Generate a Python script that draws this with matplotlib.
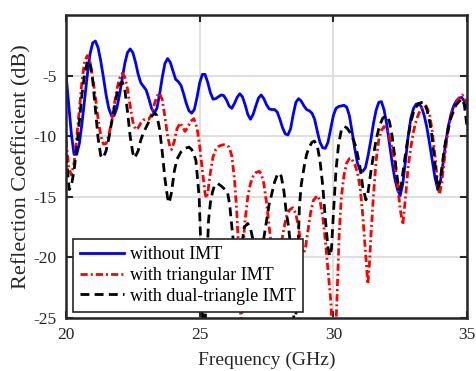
import matplotlib
matplotlib.use("Agg")
import matplotlib.pyplot as plt

plt.rcParams["font.family"] = ["Liberation Serif", "DejaVu Serif"]
plt.rcParams["axes.unicode_minus"] = False

# ---- data (frequency in GHz, S11 in dB) ----
freq_blue = [20.0, 20.1, 20.2, 20.3, 20.4, 20.5, 20.6, 20.7, 20.8, 20.9,
             21.0, 21.1, 21.2, 21.3, 21.4, 21.5, 21.6, 21.7, 21.8, 21.9,
             22.0, 22.1, 22.2, 22.3, 22.4, 22.5, 22.6, 22.7, 22.8, 22.9,
             23.0, 23.1, 23.2, 23.3, 23.4, 23.5, 23.6, 23.7, 23.8, 23.9,
             24.0, 24.1, 24.2, 24.3, 24.4, 24.5, 24.6, 24.7, 24.8, 24.9,
             25.0, 25.1, 25.2, 25.3, 25.4, 25.5, 25.6, 25.7, 25.8, 25.9,
             26.0, 26.1, 26.2, 26.3, 26.4, 26.5, 26.6, 26.7, 26.8, 26.9,
             27.0, 27.1, 27.2, 27.3, 27.4, 27.5, 27.6, 27.7, 27.8, 27.9,
             28.0, 28.1, 28.2, 28.3, 28.4, 28.5, 28.6, 28.7, 28.8, 28.9,
             29.0, 29.1, 29.2, 29.3, 29.4, 29.5, 29.6, 29.7, 29.8, 29.9,
             30.0, 30.1, 30.2, 30.3, 30.4, 30.5, 30.6, 30.7, 30.8, 30.9,
             31.0, 31.1, 31.2, 31.3, 31.4, 31.5, 31.6, 31.7, 31.8, 31.9,
             32.0, 32.1, 32.2, 32.3, 32.4, 32.5, 32.6, 32.7, 32.8, 32.9,
             33.0, 33.1, 33.2, 33.3, 33.4, 33.5, 33.6, 33.7, 33.8, 33.9,
             34.0, 34.1, 34.2, 34.3, 34.4, 34.5, 34.6, 34.7, 34.8, 34.9,
             35.0]
s11_blue = [-4.9, -7.3, -9.8, -11.5, -11.5, -10.6, -8.9, -6.9, -4.9, -3.2,
            -2.3, -2.15, -2.7, -3.8, -5.15, -6.6, -7.7, -8.3, -8.3, -7.7,
            -6.6, -5.3, -4.0, -3.1, -2.8, -3.1, -3.9, -4.9, -5.6, -5.9,
            -6.2, -6.9, -7.7, -8.1, -7.7, -6.55, -5.15, -4.0, -3.6, -3.9,
            -4.6, -5.3, -5.5, -5.8, -6.5, -7.3, -7.9, -8.1, -7.8, -6.8,
            -5.6, -4.9, -4.9, -5.55, -6.4, -6.95, -6.9, -6.75, -6.6, -6.65,
            -7.0, -7.5, -7.7, -7.3, -6.8, -6.5, -6.75, -7.4, -8.2, -8.6,
            -8.2, -7.5, -6.85, -6.6, -6.9, -7.4, -7.75, -7.8, -7.8, -8.0,
            -8.6, -9.3, -9.8, -9.9, -9.4, -8.2, -7.2, -6.9, -7.1, -7.5,
            -7.8, -7.9, -8.1, -8.6, -9.6, -10.5, -10.95, -11.0, -10.5, -9.4,
            -8.3, -7.7, -7.55, -7.5, -7.45, -7.6, -8.3, -9.6, -11.0, -12.2,
            -12.8, -12.9, -12.6, -11.6, -10.35, -8.95, -7.85, -7.2, -7.15, -7.85,
            -9.05, -10.6, -12.2, -13.5, -14.4, -14.9, -13.9, -12.0, -10.0, -8.5,
            -7.7, -7.35, -7.3, -7.6, -8.3, -9.3, -10.6, -12.0, -13.4, -14.3,
            -13.8, -12.3, -10.6, -9.2, -8.2, -7.5, -7.1, -6.85, -6.8, -7.1,
            -7.6]

freq_red = [20.0, 20.1, 20.2, 20.3, 20.4, 20.5, 20.6, 20.7, 20.8, 20.9,
            21.0, 21.1, 21.2, 21.3, 21.4, 21.5, 21.6, 21.7, 21.8, 21.9,
            22.0, 22.1, 22.2, 22.3, 22.4, 22.5, 22.6, 22.7, 22.8, 22.9,
            23.0, 23.1, 23.2, 23.3, 23.4, 23.5, 23.6, 23.7, 23.8, 23.9,
            23.95, 24.05, 24.15, 24.27, 24.35, 24.45, 24.55, 24.65, 24.78, 24.9,
            25.0, 25.1, 25.2, 25.25, 25.3, 25.4, 25.5, 25.6, 25.7, 25.8,
            25.9, 26.0, 26.1, 26.2, 26.3, 26.39, 26.48, 26.55, 26.62, 26.67,
            26.8, 26.9, 27.0, 27.1, 27.23, 27.3, 27.4, 27.5, 27.6, 27.7,
            27.8, 27.87, 27.95, 28.05, 28.15, 28.25, 28.35, 28.48, 28.6, 28.7,
            28.8, 28.88, 28.95, 29.05, 29.15, 29.25, 29.4, 29.5, 29.6, 29.7,
            29.8, 29.9, 29.95, 30.0, 30.06, 30.1, 30.15, 30.22, 30.3, 30.4,
            30.5, 30.6, 30.66, 30.8, 30.9, 31.0, 31.1, 31.2, 31.29, 31.35,
            31.41, 31.5, 31.6, 31.7, 31.8, 31.9, 32.0, 32.1, 32.2, 32.3,
            32.4, 32.5, 32.6, 32.7, 32.8, 32.9, 33.0, 33.1, 33.2, 33.3,
            33.47, 33.6, 33.7, 33.8, 33.9, 33.97, 34.05, 34.15, 34.25, 34.35,
            34.45, 34.55, 34.65, 34.82, 34.9, 35.0]
s11_red = [-10.3, -12.6, -13.2, -12.25, -10.15, -7.8, -5.4, -3.75, -3.35, -3.9,
           -5.2, -6.8, -8.6, -9.95, -10.65, -10.6, -9.95, -8.8, -7.45, -6.15,
           -5.25, -4.82, -5.1, -6.1, -7.5, -8.8, -9.45, -9.3, -8.9, -8.65,
           -8.6, -8.6, -8.2, -7.4, -6.7, -6.45, -7.0, -8.4, -10.0, -11.0,
           -11.1, -10.4, -9.4, -8.9, -9.2, -9.6, -9.3, -8.8, -8.55, -9.3,
           -10.8, -12.8, -14.7, -15.1, -14.7, -13.0, -11.7, -11.1, -10.85, -10.75,
           -10.7, -10.75, -10.9, -11.6, -13.5, -16.3, -20.5, -26.5, -20.5, -17.5,
           -15.0, -13.9, -13.3, -13.0, -12.9, -13.1, -13.9, -15.5, -17.5, -19.3,
           -20.8, -21.2, -20.6, -18.9, -17.6, -16.6, -16.1, -15.9, -16.4, -17.6,
           -19.1, -19.7, -19.3, -17.8, -16.3, -15.3, -14.9, -15.3, -16.6, -18.6,
           -21.0, -23.5, -25.5, -27.0, -27.0, -25.5, -22.5, -18.0, -15.0, -13.2,
           -12.2, -11.85, -11.8, -12.3, -13.0, -14.2, -16.5, -19.5, -22.2, -20.5,
           -18.0, -14.9, -12.0, -10.3, -9.5, -9.2, -9.4, -10.1, -11.0, -12.2,
           -14.0, -16.0, -17.3, -15.0, -12.5, -10.9, -9.6, -8.7, -8.1, -7.7,
           -7.5, -8.2, -9.6, -11.6, -13.8, -14.8, -13.9, -12.0, -10.2, -8.9,
           -8.0, -7.4, -7.0, -6.6, -6.8, -7.3]

freq_black = [20.0, 20.12, 20.2, 20.3, 20.4, 20.5, 20.6, 20.7, 20.8, 20.85,
              20.9, 21.0, 21.1, 21.2, 21.3, 21.35, 21.4, 21.5, 21.6, 21.7,
              21.8, 21.9, 22.0, 22.1, 22.2, 22.3, 22.4, 22.5, 22.57, 22.7,
              22.8, 22.9, 23.0, 23.1, 23.2, 23.33, 23.4, 23.5, 23.6, 23.7,
              23.8, 23.86, 23.95, 24.05, 24.15, 24.3, 24.45, 24.6, 24.7, 24.8,
              24.86, 24.98, 25.05, 25.12, 25.2, 25.27, 25.33, 25.4, 25.48, 25.55,
              25.67, 25.8, 25.9, 26.04, 26.12, 26.2, 26.3, 26.4, 26.5, 26.6,
              26.67, 26.8, 26.9, 26.98, 27.1, 27.2, 27.3, 27.4, 27.5, 27.6,
              27.67, 27.8, 27.9, 27.98, 28.05, 28.15, 28.23, 28.32, 28.42, 28.5,
              28.55, 28.62, 28.68, 28.73, 28.8, 28.91, 29.0, 29.1, 29.2, 29.29,
              29.4, 29.5, 29.6, 29.7, 29.8, 29.87, 29.93, 30.0, 30.1, 30.2,
              30.3, 30.41, 30.5, 30.6, 30.7, 30.85, 31.0, 31.1, 31.22, 31.3,
              31.4, 31.47, 31.6, 31.72, 31.85, 32.0, 32.1, 32.2, 32.28, 32.4,
              32.47, 32.55, 32.65, 32.78, 32.9, 33.03, 33.2, 33.38, 33.5, 33.6,
              33.66, 33.78, 33.9, 34.0, 34.16, 34.3, 34.41, 34.6, 34.81, 34.9,
              35.0]
s11_black = [-11.5, -14.4, -14.1, -12.85, -11.0, -8.75, -6.5, -4.8, -3.85, -3.75,
             -3.95, -5.4, -7.8, -10.15, -11.6, -11.8, -11.75, -11.2, -10.2, -8.95,
             -7.7, -6.55, -5.8, -5.5, -6.15, -7.95, -10.0, -11.4, -11.8, -11.2,
             -10.3, -9.7, -9.25, -8.8, -8.35, -8.1, -8.3, -9.4, -11.3, -13.5,
             -15.1, -15.5, -14.6, -12.9, -11.9, -11.3, -11.0, -10.9, -11.1, -11.6,
             -12.0, -15.0, -19.5, -26.0, -26.0, -20.5, -17.0, -15.5, -14.6, -14.1,
             -13.9, -14.1, -14.3, -14.6, -15.6, -17.4, -19.5, -20.8, -20.3, -18.6,
             -17.5, -17.2, -17.6, -18.4, -19.8, -20.4, -19.8, -18.4, -17.0, -15.6,
             -15.0, -13.8, -13.2, -13.05, -13.3, -14.5, -16.1, -17.4, -19.5, -24.0,
             -26.5, -24.0, -19.5, -15.8, -14.0, -12.5, -11.5, -10.9, -10.5, -10.4,
             -10.8, -12.0, -14.0, -16.8, -19.2, -19.9, -19.3, -16.5, -12.8, -10.6,
             -9.5, -9.2, -9.3, -9.6, -10.0, -10.9, -12.6, -14.2, -15.25, -14.6,
             -13.0, -12.0, -10.3, -9.2, -8.5, -8.3, -8.8, -10.0, -11.4, -13.6,
             -14.4, -13.9, -12.2, -10.3, -8.8, -7.8, -7.3, -7.15, -7.8, -8.8,
             -9.5, -11.8, -14.4, -13.6, -10.9, -9.3, -8.4, -7.4, -6.9, -7.4,
             -9.2]

labels = ["without IMT", "with triangular IMT", "with dual-triangle IMT"]
x_ticks = [20, 25, 30, 35]
y_ticks = [-25, -20, -15, -10, -5]

TXT = "#262626"

fig = plt.figure(figsize=(4.76, 3.71), dpi=100)
ax = fig.add_axes([66 / 476, 53 / 371, 401 / 476, 303 / 371])

ax.plot(freq_blue, s11_blue, color="#0000ff", lw=2.0, label=labels[0])
ax.plot(freq_red, s11_red, color="#ff0000", lw=2.0,
        dashes=(2.6, 1.1, 0.7, 1.1), label=labels[1])
ax.plot(freq_black, s11_black, color="black", lw=2.0,
        dashes=(3.2, 1.9), label=labels[2])

ax.set_xlim(20, 35)
ax.set_ylim(-25, 0)
ax.set_xticks(x_ticks)
ax.set_yticks(y_ticks)
ax.grid(True, color="#dcdcdc", lw=1.3)
ax.set_axisbelow(True)
ax.tick_params(direction="in", top=True, right=True, length=5, width=1.5,
               labelsize=12.5, colors=TXT, pad=6.5)
for s in ax.spines.values():
    s.set_linewidth(1.8)
    s.set_color(TXT)

ax.set_xlabel("Frequency (GHz)", fontsize=14, color=TXT, labelpad=6)
ax.set_ylabel("Reflection Coefficient (dB)", fontsize=16, color=TXT, labelpad=2)

leg = ax.legend(loc="lower left", bbox_to_anchor=(0.0175, 0.02),
                borderaxespad=0, fancybox=False, framealpha=1,
                edgecolor=TXT, fontsize=13, handlelength=2.45,
                handletextpad=0.3, labelspacing=0.2)
leg.get_frame().set_linewidth(1.2)

fig.savefig("out.png", dpi=100)
